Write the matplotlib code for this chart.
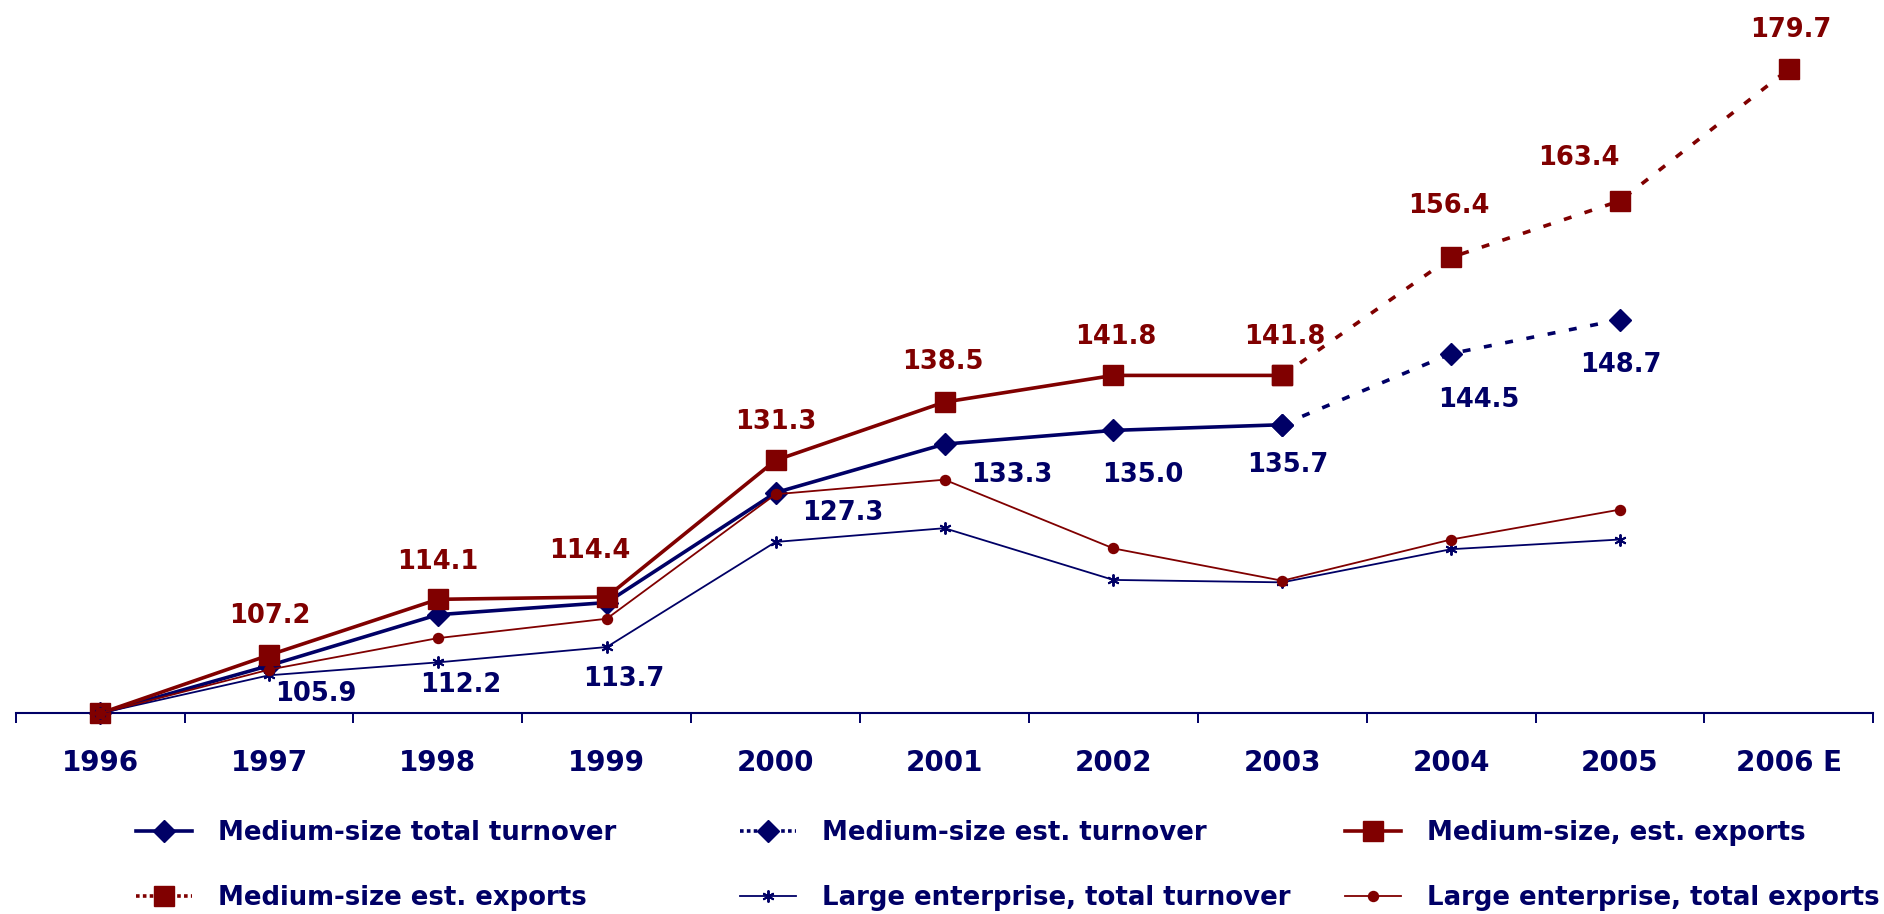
import matplotlib
matplotlib.use('Agg')
import matplotlib.pyplot as plt
from matplotlib.lines import Line2D
import numpy as np

# ---------------- data ----------------
years = ['1996', '1997', '1998', '1999', '2000', '2001', '2002', '2003', '2004', '2005', '2006 E']

med_turnover = [100.0, 105.9, 112.2, 113.7, 127.3, 133.3, 135.0, 135.7]          # 1996-2003
med_turnover_est = [135.7, 144.5, 148.7]                                          # 2003-2005
med_exports = [100.0, 107.2, 114.1, 114.4, 131.3, 138.5, 141.8, 141.8]           # 1996-2003
med_exports_est = [141.8, 156.4, 163.4, 179.7]                                    # 2003-2006
large_turnover = [100.0, 104.7, 106.3, 108.2, 121.2, 122.9, 116.5, 116.2, 120.3, 121.5]  # 1996-2005
large_exports = [100.0, 105.4, 109.3, 111.7, 127.1, 128.9, 120.4, 116.4, 121.5, 125.2]   # 1996-2005

labels = ['Medium-size total turnover', 'Medium-size est. turnover', 'Medium-size, est. exports',
          'Medium-size est. exports', 'Large enterprise, total turnover', 'Large enterprise, total exports']

# label offsets in pixels (dx right, dy down) for value labels, from 1997 onward
exp_label_off = [(1, -41), (0, -40), (-17, -48), (0, -41), (-2, -42), (2, -41), (3, -41),
                 (-2, -54), (-41, -45), (2, -41)]
turn_label_off = [(47, 26), (23, 68), (17, 74), (67, 18), (67, 29), (29, 42), (5, 38),
                  (28, 44), (1, 43)]

# ---------------- style ----------------
NAVY = '#000066'
MAROON = '#800000'
FONT = 'DejaVu Sans'

fig = plt.figure(figsize=(18.84, 9.14), dpi=100)
ax = fig.add_axes([0.00833, 0.21958, 0.98601, 0.75175])
ax.set_xlim(-0.5, len(years) - 0.5)
ax.set_ylim(100, 185)

x_mt = np.arange(len(med_turnover))
x_mte = np.arange(len(med_turnover) - 1, len(med_turnover) - 1 + len(med_turnover_est))
x_me = np.arange(len(med_exports))
x_mee = np.arange(len(med_exports) - 1, len(med_exports) - 1 + len(med_exports_est))
x_lt = np.arange(len(large_turnover))
x_le = np.arange(len(large_exports))

dash = (0, (2.2, 3.8))
leg_dash = (0, (1.0, 0.9))
asterisk = (6, 2, 0)

h1, = ax.plot(x_mt, med_turnover, color=NAVY, lw=2.6, marker='D', ms=11, mec=NAVY, mfc=NAVY,
              zorder=4, clip_on=False, solid_joinstyle='round')
ax.plot(x_mte, med_turnover_est, color=NAVY, lw=2.6, ls=dash, marker='D', ms=11, mec=NAVY,
        mfc=NAVY, zorder=4, clip_on=False)
h3, = ax.plot(x_me, med_exports, color=MAROON, lw=2.6, marker='s', ms=15, mec=MAROON, mfc=MAROON,
              zorder=5, clip_on=False, solid_joinstyle='round')
ax.plot(x_mee, med_exports_est, color=MAROON, lw=2.6, ls=dash, marker='s', ms=15, mec=MAROON,
        mfc=MAROON, zorder=5, clip_on=False)
h5, = ax.plot(x_lt, large_turnover, color=NAVY, lw=1.3, marker=asterisk, ms=8.6, mec=NAVY, mew=1.4,
              zorder=6, clip_on=False)
h6, = ax.plot(x_le, large_exports, color=MAROON, lw=1.3, marker='o', ms=7.2, mec=MAROON, mfc=MAROON,
              zorder=6, clip_on=False)

# legend proxies for the estimated (dotted) series
h2 = Line2D([], [], color=NAVY, lw=2.6, ls=leg_dash, marker='D', ms=11, mec=NAVY, mfc=NAVY)
h4 = Line2D([], [], color=MAROON, lw=2.6, ls=leg_dash, marker='s', ms=15, mec=MAROON, mfc=MAROON)

# ---------------- value labels ----------------
LBL_FS = 18.5
cap_half = 0.729 * LBL_FS * 100 / 72 / 2
exports_all = med_exports + med_exports_est[1:]
turnover_all = med_turnover + med_turnover_est[1:]
for i, (v, (dx, dy)) in enumerate(zip(exports_all[1:], exp_label_off), start=1):
    ax.annotate(f'{v:.1f}', xy=(i, v), xytext=(dx, -(dy + cap_half)), textcoords='offset pixels',
                ha='center', va='baseline', fontsize=LBL_FS, fontweight='bold', color=MAROON,
                family=FONT, zorder=7, annotation_clip=False)
for i, (v, (dx, dy)) in enumerate(zip(turnover_all[1:], turn_label_off), start=1):
    ax.annotate(f'{v:.1f}', xy=(i, v), xytext=(dx, -(dy + cap_half)), textcoords='offset pixels',
                ha='center', va='baseline', fontsize=LBL_FS, fontweight='bold', color=NAVY,
                family=FONT, zorder=7, annotation_clip=False)

# ---------------- axes ----------------
for s in ['top', 'right', 'left']:
    ax.spines[s].set_visible(False)
ax.spines['bottom'].set_color(NAVY)
ax.spines['bottom'].set_linewidth(1.5)
ax.set_yticks([])
ax.set_xticks(np.arange(len(years)))
ax.set_xticklabels(years, fontsize=20, fontweight='bold', color=NAVY, family=FONT)
ax.set_xticks(np.arange(-0.5, len(years), 1.0), minor=True)
ax.tick_params(axis='x', which='major', length=0, pad=25.5)
ax.tick_params(axis='x', which='minor', length=7.2, width=1.4, color=NAVY, direction='out')

# ---------------- legend (three columns) ----------------
LEG_FS = 18.7
handles = [h1, h2, h3, h4, h5, h6]
cols = [(0, 3), (1, 4), (2, 5)]
anchors_x = [136 / 1884, 740 / 1884, 1345 / 1884]
for (a, b), x0 in zip(cols, anchors_x):
    leg = fig.legend([handles[a], handles[b]], [labels[a], labels[b]], loc='center left',
                     bbox_to_anchor=(x0, 0.053), bbox_transform=fig.transFigure,
                     frameon=False, handlelength=2.15, handletextpad=1.0,
                     borderpad=0, borderaxespad=0, labelspacing=1.5, numpoints=1,
                     prop={'family': FONT, 'weight': 'bold', 'size': LEG_FS})
    for t in leg.get_texts():
        t.set_color(NAVY)

fig.savefig('out.png', dpi=100)
